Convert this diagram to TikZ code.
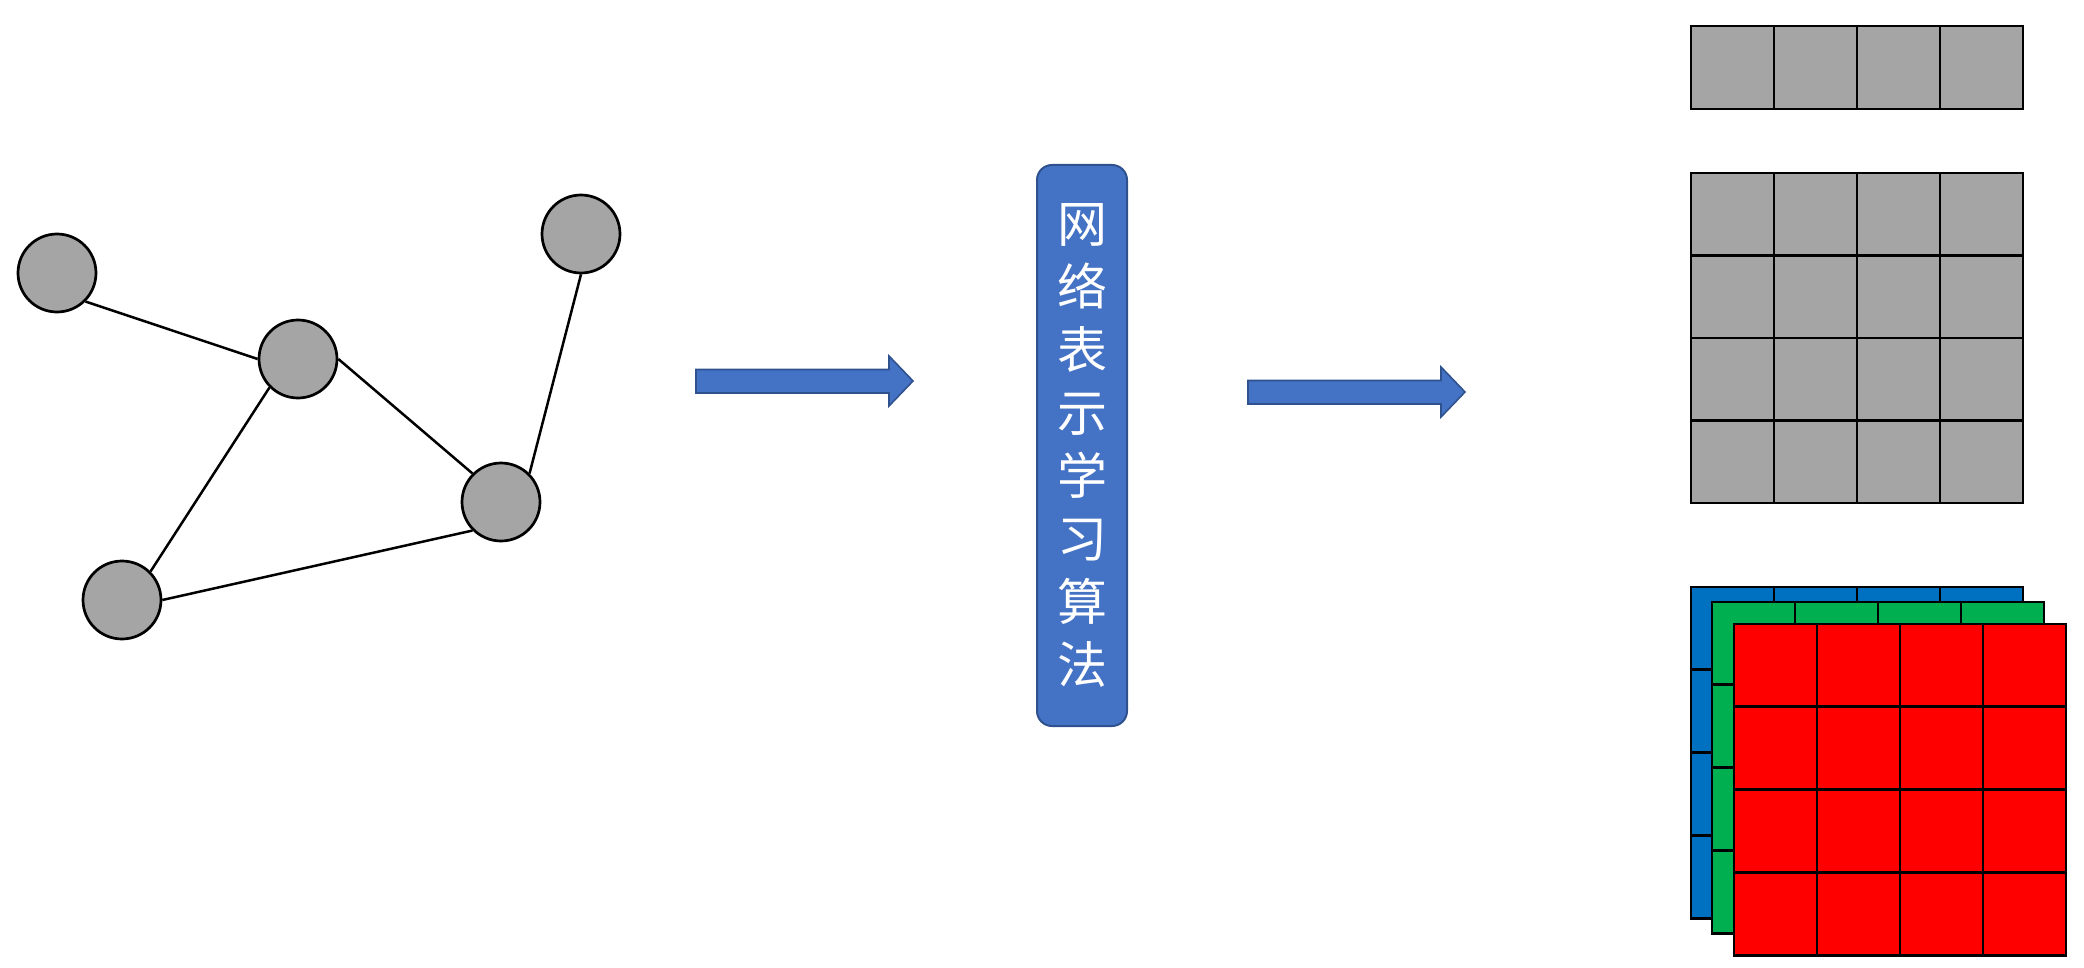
\documentclass[tikz,border=0pt]{standalone}
\usepackage{fontspec}
\newfontfamily\cjk{Noto Sans CJK SC}
\definecolor{nodegray}{HTML}{A5A5A5}
\definecolor{boxblue}{HTML}{4472C4}
\definecolor{boxedge}{HTML}{2F528F}
\definecolor{layerblue}{HTML}{0070C0}
\definecolor{layergreen}{HTML}{00B050}
\definecolor{layerred}{HTML}{FF0000}
\begin{document}
\begin{tikzpicture}[x=1pt,y=-1pt,
  vertex/.style={circle, draw=black, fill=nodegray, line width=2.7pt, minimum size=78pt, inner sep=0pt},
  edge/.style={draw=black, line width=2.5pt},
  flowarrow/.style={fill=boxblue, draw=boxedge, line width=1.6pt, line join=miter},
  cell/.style={draw=black, line width=2.7pt},
  algobox/.style={draw=boxedge, fill=boxblue, line width=2pt, rounded corners=15pt,
    minimum width=90pt, minimum height=561pt, inner sep=0pt, text=white, align=center,
    font=\cjk\fontsize{50}{63}\selectfont}
]
\useasboundingbox (0,0) rectangle (2084,968);

% input graph
\node[vertex] (a) at (57,273) {};
\node[vertex] (b) at (298,359) {};
\node[vertex] (c) at (581,234) {};
\node[vertex] (d) at (501,502) {};
\node[vertex] (e) at (122,600) {};
\draw[edge] (a.south east) -- (b.west);
\draw[edge] (b.east) -- (d.north west);
\draw[edge] (b.south west) -- (e.north east);
\draw[edge] (d.north east) -- (c.south);
\draw[edge] (e.east) -- (d.south west);

% first block arrow
\draw[flowarrow] (696,369.5) -- (889,369.5) -- (889,356) -- (913,381)
  -- (889,406) -- (889,393) -- (696,393) -- cycle;

% algorithm box
\node[algobox] (algo) at (1082,445.5) {网\\络\\表\\示\\学\\习\\算\\法};

% second block arrow
\draw[flowarrow] (1248,380.5) -- (1441,380.5) -- (1441,367) -- (1465,392)
  -- (1441,417) -- (1441,404) -- (1248,404) -- cycle;

% output: vector, matrix and stacked tensor
\newcommand{\cellgrid}[6]{%
  \foreach \i in {0,...,3} {
    \foreach \j in {1,...,#4} {
      \filldraw[cell, fill=#3] ({#1+\i*#5},{#2+(\j-1)*#6}) rectangle ++(#5,#6);
    }
  }%
}
\cellgrid{1691}{26}{nodegray}{1}{83}{83}
\cellgrid{1691}{173}{nodegray}{4}{83}{82.5}
\cellgrid{1691}{587}{layerblue}{4}{83}{82.8}
\cellgrid{1712}{602}{layergreen}{4}{83}{82.8}
\cellgrid{1734}{624}{layerred}{4}{83}{82.8}
\end{tikzpicture}
\end{document}
